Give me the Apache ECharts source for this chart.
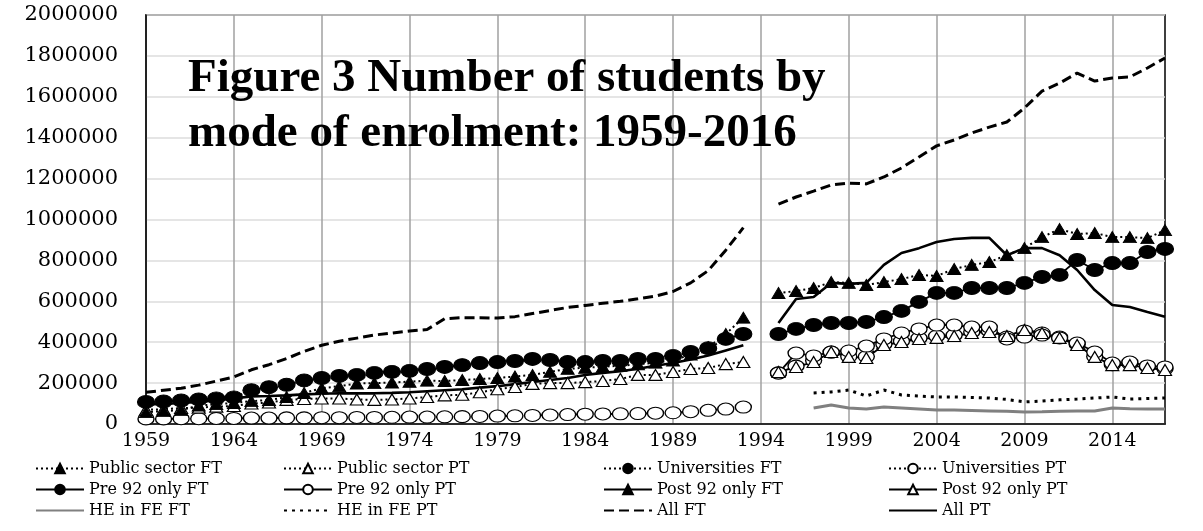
<!DOCTYPE html>
<html>
<head>
<meta charset="utf-8">
<script src="https://cdn.jsdelivr.net/npm/echarts@6/dist/echarts.min.js"></script>
<style>
  html, body { margin: 0; padding: 0; background: #fff; }
  #main { width: 1203px; height: 531px; }
</style>
</head>
<body>
<div id="main"></div>
<script>
// x categories: 1959 .. 2017 (1994 has no data)
const years = ['1959','1960','1961','1962','1963','1964','1965','1966','1967','1968',
  '1969','1970','1971','1972','1973','1974','1975','1976','1977','1978',
  '1979','1980','1981','1982','1983','1984','1985','1986','1987','1988',
  '1989','1990','1991','1992','1993','1994','1995','1996','1997','1998',
  '1999','2000','2001','2002','2003','2004','2005','2006','2007','2008',
  '2009','2010','2011','2012','2013','2014','2015','2016','2017']

// 1959-1993
const publicFT = [58000, 63000, 68000, 90000, 97000, 103000, 112000, 117000, 132000, 152000,
  175000, 185000, 198000, 200000, 203000, 207000, 212000, 210000, 215000, 220000,
  225000, 232000, 240000, 255000, 270000, 275000, 280000, 285000, 292000, 300000,
  310000, 340000, 375000, 440000, 520000]
const publicPT = [70000, 72000, 78000, 80000, 85000, 88000, 100000, 105000, 118000, 122000,
  125000, 125000, 120000, 118000, 120000, 125000, 132000, 140000, 143000, 155000,
  170000, 181000, 196000, 200000, 200000, 205000, 210000, 220000, 240000, 240000,
  254000, 269000, 274000, 293000, 303000]
const univFT = [108000, 110000, 115000, 120000, 125000, 130000, 165000, 180000, 192000, 213000,
  225000, 235000, 240000, 250000, 255000, 260000, 269000, 279000, 288000, 298000,
  303000, 308000, 318000, 313000, 303000, 303000, 308000, 308000, 318000, 318000,
  333000, 352000, 371000, 416000, 440000]
const univPT = [25000, 25000, 26000, 26000, 27000, 27000, 29000, 29000, 30000, 30000,
  31000, 31000, 32000, 32000, 33000, 34000, 34000, 35000, 36000, 37000,
  39000, 40000, 42000, 44000, 46000, 48000, 49000, 50000, 51000, 53000,
  55000, 60000, 67000, 73000, 83000]
const allFTearly = [155000, 165000, 175000, 190000, 210000, 230000, 265000, 290000, 320000, 355000,
  385000, 405000, 420000, 435000, 445000, 455000, 462000, 515000, 520000, 520000,
  518000, 525000, 540000, 555000, 570000, 580000, 590000, 600000, 612000, 625000,
  648000, 690000, 750000, 850000, 960000]
const allPTearly = [95000, 98000, 103000, 108000, 115000, 125000, 135000, 137000, 140000, 145000,
  148000, 150000, 150000, 150000, 152000, 155000, 160000, 165000, 170000, 178000,
  185000, 195000, 205000, 215000, 225000, 240000, 250000, 258000, 270000, 285000,
  298000, 315000, 335000, 360000, 385000]

// 1995-2017
const pre92FT = [440000, 465000, 484000, 494000, 494000, 499000, 523000, 553000, 597000, 641000,
  641000, 665000, 665000, 665000, 690000, 719000, 729000, 802000, 753000, 787000,
  787000, 841000, 856000]
const pre92PT = [249000, 347000, 333000, 352000, 357000, 381000, 416000, 445000, 465000, 484000,
  484000, 474000, 474000, 416000, 425000, 435000, 421000, 396000, 352000, 298000,
  303000, 284000, 279000]
const post92FT = [641000, 650000, 665000, 694000, 690000, 680000, 694000, 709000, 729000, 724000,
  758000, 778000, 792000, 826000, 860000, 914000, 953000, 929000, 934000, 914000,
  914000, 909000, 948000]
const post92PT = [254000, 279000, 303000, 352000, 328000, 323000, 386000, 401000, 416000, 421000,
  430000, 445000, 450000, 430000, 460000, 445000, 421000, 386000, 328000, 288000,
  288000, 274000, 264000]
const univPTlate = [250000, 283000, 310000, 352000, 330000, 330000, 390000, 405000, 420000, 430000,
  435000, 450000, 455000, 425000, 455000, 445000, 425000, 390000, 330000, 290000,
  295000, 280000, 270000]
const allFTlate = [1075000, 1110000, 1139000, 1169000, 1178000, 1174000, 1208000, 1252000, 1306000, 1360000,
  1389000, 1423000, 1452000, 1477000, 1545000, 1628000, 1667000, 1716000, 1677000, 1692000,
  1697000, 1741000, 1790000]
const allPTlate = [494000, 611000, 621000, 690000, 685000, 690000, 778000, 836000, 860000, 890000,
  905000, 910000, 910000, 825000, 860000, 860000, 825000, 753000, 655000, 582000,
  572000, 548000, 525000]

// 1997-2017
const heFeFT = [78000, 93000, 78000, 73000, 83000, 78000, 73000, 68000, 68000, 66000,
  64000, 62000, 59000, 60000, 62000, 64000, 64000, 78000, 75000, 73000, 73000]
const heFePT = [152000, 157000, 166000, 137000, 166000, 142000, 137000, 132000, 132000, 130000,
  127000, 120000, 108000, 112000, 118000, 122000, 127000, 132000, 122000, 125000, 127000]

const yTicks = [0, 200000, 400000, 600000, 800000, 1000000, 1200000, 1400000, 1600000, 1800000, 2000000]

// put a run of values at its start year, nulls elsewhere
function place(out, values, startYear) {
  const i0 = years.indexOf(startYear)
  values.forEach((v, i) => { out[i0 + i] = v })
  return out
}
function blank() { return years.map(() => null) }

const serif = 'DejaVu Serif'
const filled = { color: '#000', borderColor: '#000', borderWidth: 1 }
const hollow = { color: '#fff', borderColor: '#000', borderWidth: 1.2 }
const dots = { color: '#000', width: 2, type: [2, 3] }
const solid = { color: '#000', width: 1.8, type: 'solid' }
const TRI = [13, 11], CIR = [17, 13], OCIR = [16, 12]

function line(name, data, lineStyle, symbol, size, itemStyle) {
  return {
    name: name, type: 'line', data: data,
    symbol: symbol || 'none', symbolSize: size || 1,
    showSymbol: !!symbol, showAllSymbol: true,
    lineStyle: lineStyle,
    itemStyle: itemStyle || { color: lineStyle.color },
    connectNulls: false
  }
}

const series = [
  line('All FT', place(place(blank(), allFTearly, '1959'), allFTlate, '1995'), { color: '#000', width: 3, type: [10, 5] }),
  line('All PT', place(place(blank(), allPTearly, '1959'), allPTlate, '1995'), { color: '#000', width: 2.6, type: 'solid' }),
  line('HE in FE FT', place(blank(), heFeFT, '1997'), { color: '#808080', width: 3, type: 'solid' }),
  line('HE in FE PT', place(blank(), heFePT, '1997'), { color: '#000', width: 3, type: [3, 5] }),
  line('Universities PT', place(place(blank(), univPT, '1959'), univPTlate, '1995'), dots, 'circle', OCIR, hollow),
  line('Public sector PT', place(blank(), publicPT, '1959'), dots, 'triangle', TRI, hollow),
  line('Pre 92 only PT', place(blank(), pre92PT, '1995'), solid, 'circle', OCIR, hollow),
  line('Post 92 only PT', place(blank(), post92PT, '1995'), solid, 'triangle', TRI, hollow),
  line('Universities FT', place(blank(), univFT, '1959'), dots, 'circle', CIR, filled),
  line('Public sector FT', place(blank(), publicFT, '1959'), dots, 'triangle', TRI, filled),
  line('Pre 92 only FT', place(blank(), pre92FT, '1995'), solid, 'circle', CIR, filled),
  line('Post 92 only FT', place(blank(), post92FT, '1995'), dots, 'triangle', TRI, filled)
]

// legend entries for plain lines carry no marker
const noMark = { color: 'rgba(0,0,0,0)', borderWidth: 0, opacity: 0 }
const legendBase = {
  orient: 'vertical', top: 453, itemWidth: 48, itemHeight: 12, itemGap: 0,
  selectedMode: false,
  textStyle: { fontFamily: serif, fontSize: 16, color: '#000', lineHeight: 21 }
}

const chart = echarts.init(document.getElementById('main'), null, { renderer: 'canvas' })
chart.setOption({
  animation: false,
  backgroundColor: '#fff',
  title: {
    text: 'Figure 3 Number of students by\nmode of enrolment: 1959-2016',
    left: 188, top: 51, padding: 0,
    textStyle: { fontFamily: 'Liberation Serif', fontWeight: 'bold', fontSize: 47, lineHeight: 55, color: '#000' }
  },
  legend: [
    Object.assign({ left: 30, data: ['Public sector FT', 'Pre 92 only FT',
      { name: 'HE in FE FT', itemStyle: noMark }] }, legendBase),
    Object.assign({ left: 278, data: ['Public sector PT', 'Pre 92 only PT',
      { name: 'HE in FE PT', itemStyle: noMark }] }, legendBase),
    Object.assign({ left: 598, data: ['Universities FT',
      { name: 'Post 92 only FT', lineStyle: { type: 'solid', width: 1.8 } },
      { name: 'All FT', itemStyle: noMark }] }, legendBase),
    Object.assign({ left: 883, data: ['Universities PT', 'Post 92 only PT',
      { name: 'All PT', itemStyle: noMark }] }, legendBase)
  ],
  grid: {
    left: 146, right: 38, top: 15, bottom: 107,
    show: true, borderColor: '#000', borderWidth: 1.5, backgroundColor: 'transparent'
  },
  xAxis: {
    type: 'category', data: years, boundaryGap: false,
    axisLine: { lineStyle: { color: '#000', width: 1.5 } },
    axisTick: { show: false },
    axisLabel: { interval: 4, margin: 8, fontFamily: serif, fontSize: 19, color: '#000' },
    splitLine: { show: true, interval: 4, lineStyle: { color: '#a0a0a0', width: 1.5 } }
  },
  yAxis: {
    type: 'value', min: yTicks[0], max: yTicks[yTicks.length - 1], interval: yTicks[1] - yTicks[0],
    axisLine: { show: true, lineStyle: { color: '#000', width: 1.5 } },
    axisTick: { show: false },
    axisLabel: { margin: 28, fontFamily: serif, fontSize: 21, color: '#000', formatter: v => String(v) },
    splitLine: { lineStyle: { color: '#dcdcdc', width: 1.5 } }
  },
  series: series
})
</script>
</body>
</html>
